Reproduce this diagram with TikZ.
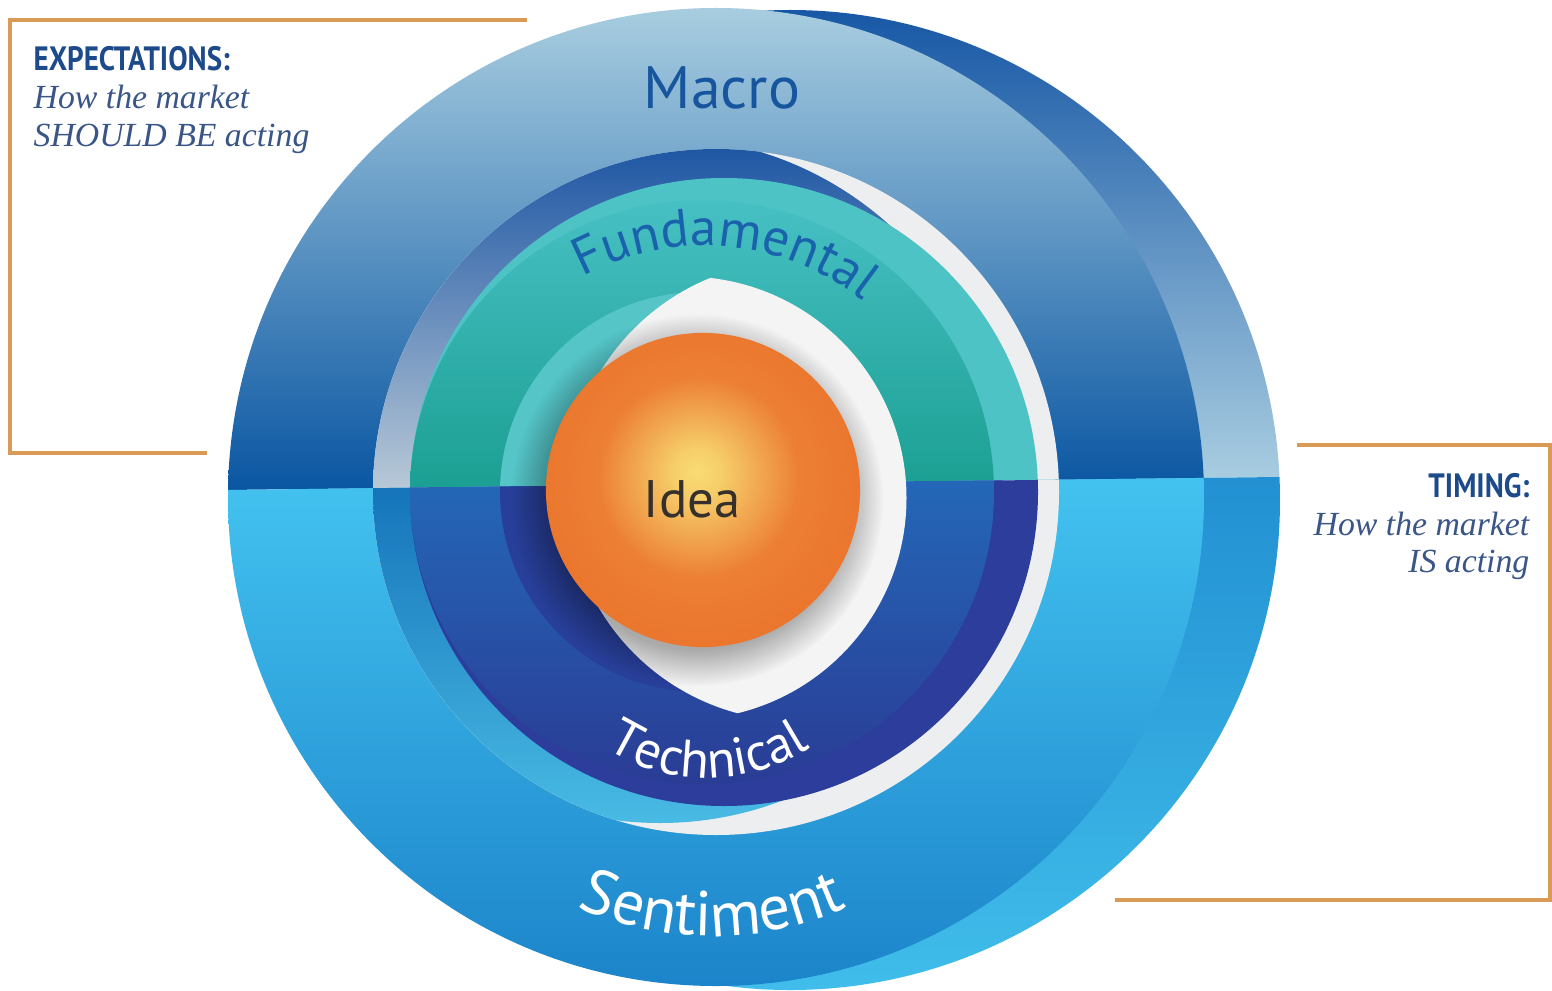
\documentclass[tikz,border=0pt]{standalone}
\usepackage{fontspec}
\usepackage{tikz}
\usetikzlibrary{positioning,fadings,shadows,decorations.text}
\newfontfamily\ringfont{PT Sans}
\newfontfamily\headfont{PT Sans}[FakeStretch=0.86]
\newfontfamily\descfont{Liberation Serif}

\definecolor{macrotop}{HTML}{A8CDE0}
\definecolor{macromid}{HTML}{5F84BE}
\definecolor{macrobot}{HTML}{0A56A2}
\definecolor{rimtop}{HTML}{1757A5}
\definecolor{rimbot}{HTML}{ADD1E3}
\definecolor{senttop}{HTML}{43C3F0}
\definecolor{sentbot}{HTML}{1C84CA}
\definecolor{srimtop}{HTML}{2290D2}
\definecolor{srimbot}{HTML}{40BDEA}
\definecolor{gaptop}{HTML}{1F57A4}
\definecolor{gapbot}{HTML}{B9C9D7}
\definecolor{sgaptop}{HTML}{1371B8}
\definecolor{sgapbot}{HTML}{4ABDE5}
\definecolor{gapwhite}{HTML}{EDEEF0}
\definecolor{fundlight}{HTML}{4EC3C6}
\definecolor{fundtop}{HTML}{47C0C4}
\definecolor{fundbot}{HTML}{1B9F92}
\definecolor{techrim}{HTML}{2C3D9B}
\definecolor{techtop}{HTML}{2468B8}
\definecolor{techbot}{HTML}{2A3C95}
\definecolor{innerteal}{HTML}{55C5C8}
\definecolor{innerblue}{HTML}{283F99}
\definecolor{lenswhite}{HTML}{F4F4F4}
\definecolor{ideayellow}{HTML}{F8DC74}
\definecolor{ideaorange}{HTML}{EB772E}
\definecolor{framecol}{HTML}{D99A55}
\definecolor{titleblue}{HTML}{1D4A8A}
\definecolor{descblue}{HTML}{3A5587}
\definecolor{macroblue}{HTML}{17569F}
\definecolor{fundblue}{HTML}{1A63AC}
\definecolor{ideadark}{HTML}{35302B}

\pgfdeclareradialshading{ideaball}{\pgfpoint{-1bp}{3bp}}{%
color(0bp)=(ideayellow); color(4bp)=(ideayellow!85!ideaorange); color(16bp)=(ideaorange!92!ideayellow); color(25bp)=(ideaorange); color(50bp)=(ideaorange)}

\begin{document}
\begin{tikzpicture}[x=0.01cm, y=0.01cm]

\tikzstyle{framerule} = [draw=framecol, line width=0.9pt]
\tikzstyle{titletext} = [inner sep=0, text=titleblue, font=\headfont\bfseries\fontsize{9.6}{11}\selectfont]
\tikzstyle{desctext} = [inner sep=0, text=descblue, font=\descfont\itshape\fontsize{9.6}{11}\selectfont]
\tikzstyle{ringlabel} = [inner sep=0, font=\ringfont\fontsize{17}{17}\selectfont]
\tikzstyle{ideatext} = [inner sep=0, text=ideadark, font=\ringfont\fontsize{15}{15}\selectfont]

\path[use as bounding box, fill=white] (0,0) rectangle (1552,990);

% upper half: Macro and Fundamental
\begin{scope}
	\clip (0,497.2) -- (1552,516.4) -- (1552,990) -- (0,990) -- cycle;
	\begin{scope}
		\clip (790,490) circle (490);
		\shade[top color=rimtop, bottom color=rimbot] (300,497) rectangle (1280,980);
	\end{scope}
	\begin{scope}
		\clip (716,493) ellipse (488 and 489);
		\shade[top color=macrotop, middle color=macromid, bottom color=macrobot] (228,500) rectangle (1204,982);
	\end{scope}
	\fill[gapwhite] (716,498) circle (343);
	\begin{scope}
		\clip (716,498) circle (343);
		\clip (660,510) circle (343);
		\shade[top color=gaptop, bottom color=gapbot] (373,500) rectangle (1003,841);
	\end{scope}
	\fill[fundlight] (724,498) circle (314);
	\begin{scope}
		\clip (702,498) circle (292);
		\shade[top color=fundtop, bottom color=fundbot] (410,500) rectangle (994,790);
	\end{scope}
	\fill[innerteal] (700,498) circle (200);
\end{scope}

% lower half: Sentiment and Technical
\begin{scope}
	\clip (0,497.2) -- (1552,516.4) -- (1552,0) -- (0,0) -- cycle;
	\begin{scope}
		\clip (790,490) circle (490);
		\shade[top color=srimtop, bottom color=srimbot] (300,0) rectangle (1280,516);
	\end{scope}
	\begin{scope}
		\clip (716,493) ellipse (488 and 489);
		\shade[top color=senttop, bottom color=sentbot] (228,4) rectangle (1204,516);
	\end{scope}
	\fill[gapwhite] (716,498) circle (343);
	\begin{scope}
		\clip (716,498) circle (343);
		\clip (660,510) circle (343);
		\shade[top color=sgaptop, bottom color=sgapbot] (373,155) rectangle (1003,516);
	\end{scope}
	\fill[techrim] (724,498) circle (314);
	\begin{scope}
		\clip (702,498) circle (292);
		\shade[top color=techtop, bottom color=techbot] (410,206) rectangle (994,516);
	\end{scope}
	\fill[innerblue] (700,498) circle (200);
\end{scope}

% white lens round the idea
\begin{scope}
	\clip (685,492) circle (221.5);
	\fill[lenswhite] (797,499) circle (230);
\end{scope}
\fill[black, opacity=0.3, path fading=circle with fuzzy edge 20 percent] (697,490) circle (186);

\node[circle, inner sep=0, minimum size=3.14cm, shading=ideaball,
	label={[ideatext, name=idealabel, xshift=-0.11cm, yshift=-0.09cm]center:Idea}] (idea) at (703,500) {};

% ring labels
\node[ringlabel, anchor=base, text=macroblue] (macro) at (722,881) {Macro};
\path[decorate, decoration={text along path, text align=center,
	text={|\ringfont\fontsize{15}{15}\selectfont\color{fundblue}|Fundamental}}]
	(704,488) ++(150:256) arc (150:20:256);
\path[decorate, decoration={text along path, text align=center,
	text={|\ringfont\fontsize{15}{15}\selectfont\color{white}|Technical}}]
	(708,401) ++(200:189) arc (200:340:189);
\path[decorate, decoration={text along path, text align=center,
	text={|\ringfont\fontsize{18}{18}\selectfont\color{white}|Sentiment}}]
	(712,386) ++(205:332) arc (205:335:332);

% expectations
\coordinate (expA) at (527,970);
\coordinate (expB) at (10,970);
\coordinate (expC) at (10,537);
\coordinate (expD) at (207,537);
\draw[framerule] (expA) -- (expB) -- (expC) -- (expD);
\node[titletext, anchor=base west] (exptitle) at (33,919) {EXPECTATIONS:};
\node[desctext, anchor=base west] (expline1) at ([yshift=-0.37cm]exptitle.base west) {How the market};
\node[desctext, anchor=base west] (expline2) at ([yshift=-0.38cm]expline1.base west) {SHOULD BE acting};

% timing
\coordinate (timA) at (1297,545);
\coordinate (timB) at (1550,545);
\coordinate (timC) at (1550,90);
\coordinate (timD) at (1115,90);
\draw[framerule] (timA) -- (timB) -- (timC) -- (timD);
\node[titletext, anchor=base east] (timtitle) at (1530,493) {TIMING:};
\node[desctext, anchor=base east] (timline1) at ([yshift=-0.38cm]timtitle.base east) {How the market};
\node[desctext, anchor=base east] (timline2) at ([yshift=-0.37cm]timline1.base east) {IS acting};

\end{tikzpicture}
\end{document}
